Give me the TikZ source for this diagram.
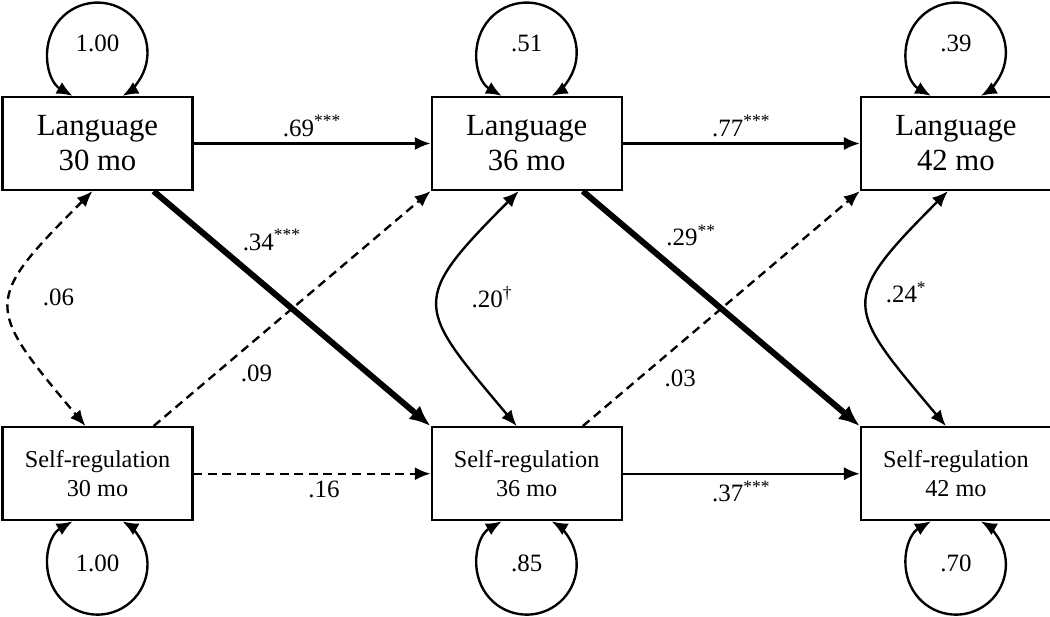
\documentclass[tikz,border=0pt]{standalone}
\usepackage{fontspec}
\setmainfont{Liberation Serif}
\usetikzlibrary{positioning,arrows.meta}

\begin{document}
\begin{tikzpicture}[x=0.02cm, y=0.02cm,
    construct/.style={rectangle, draw=black, line width=1.3pt, minimum width=3.8cm, minimum height=1.86cm, align=center, inner sep=2pt},
    lang/.style={construct, font=\fontsize{17.5}{20}\selectfont},
    selfreg/.style={construct, font=\fontsize{13.8}{16.4}\selectfont},
    coef/.style={font=\fontsize{14.2}{16}\selectfont},
    regress/.style={line width=1.35pt, -{Latex[length=9pt, width=7.5pt]}},
    nonsig/.style={regress, dash pattern=on 5pt off 3.2pt},
    strong/.style={line width=3.4pt, -{Latex[length=12pt, width=10pt]}},
    covar/.style={line width=1.35pt, {Latex[length=9pt, width=7.5pt]}-{Latex[length=9pt, width=7.5pt]}},
    node distance=4.7cm and 4.74cm
    ]
    \useasboundingbox (0,0) rectangle (1050,616);

    % the six constructs
    \node[lang] (lang30) at (97.5,472.5) {Language\\30 mo};
    \node[lang, right=of lang30] (lang36) {Language\\36 mo};
    \node[lang, right=of lang36] (lang42) {Language\\42 mo};
    \node[selfreg, below=of lang30] (self30) {Self-regulation\\30 mo};
    \node[selfreg, below=of lang36] (self36) {Self-regulation\\36 mo};
    \node[selfreg, below=of lang42] (self42) {Self-regulation\\42 mo};

    % variances
    \foreach \t/\lv/\sv in {30/1.00/1.00, 36/.51/.85, 42/.39/.70} {
        \draw[covar] ([xshift=-0.5cm]lang\t.north) arc[start angle=240, end angle=-60, radius=1cm];
        \node[coef] (vlang\t) at ([yshift=1.05cm]lang\t.north) {\lv};
        \draw[covar] ([xshift=-0.5cm]self\t.south) arc[start angle=120, end angle=420, radius=1cm];
        \node[coef] (vself\t) at ([yshift=-0.85cm]self\t.south) {\sv};
    }

    % stability paths
    \draw[regress] (lang30) -- node[coef, above] {.69\textsuperscript{***}} (lang36);
    \draw[regress] (lang36) -- node[coef, above] {.77\textsuperscript{***}} (lang42);
    \draw[nonsig] (self30) -- node[coef, pos=0.55, below] {.16} (self36);
    \draw[regress] (self36) -- node[coef, below] {.37\textsuperscript{***}} (self42);

    % cross-lagged paths
    \draw[nonsig] (self30) -- node[coef, pos=0.29, below right] {.09} (lang36.south west);
    \draw[nonsig] (self36) -- node[coef, pos=0.27, below right] {.03} (lang42.south west);
    \draw[strong] (lang30) -- node[coef, pos=0.29, above right] {.34\textsuperscript{***}} (self36.north west);
    \draw[strong] (lang36) -- node[coef, pos=0.27, above right] {.29\textsuperscript{**}} (self42.north west);

    % within-time covariances
    \draw[covar, dash pattern=on 5pt off 3.2pt] ([xshift=-0.1cm]lang30.south) to[out=-135, in=130, looseness=1.7]
        node[coef, right=0.52cm, yshift=0.16cm] {.06} ([xshift=-0.24cm]self30.north);
    \draw[covar] ([xshift=-0.16cm]lang36.south) to[out=-135, in=130, looseness=1.7]
        node[coef, right=0.52cm, yshift=0.16cm] {.20\textsuperscript{†}} ([xshift=-0.2cm]self36.north);
    \draw[covar] ([xshift=-0.16cm]lang42.south) to[out=-135, in=130, looseness=1.7]
        node[coef, right=0.22cm, yshift=0.26cm] {.24\textsuperscript{*}} ([xshift=-0.2cm]self42.north);
\end{tikzpicture}
\end{document}
